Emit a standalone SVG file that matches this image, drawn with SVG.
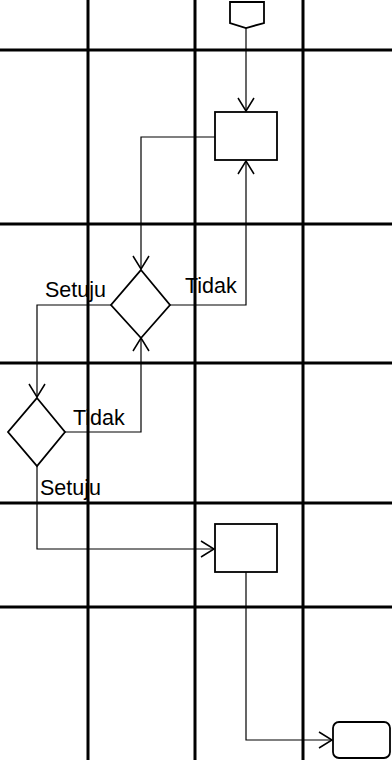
<svg xmlns="http://www.w3.org/2000/svg" width="392" height="760" viewBox="0 0 392 760">
<style>
.grid{stroke:#000;stroke-width:3;fill:none}
.shape{stroke:#000;stroke-width:1.8;fill:#fff}
.conn{stroke:#000;stroke-width:1.2;fill:none}
.lbl{font-family:"Liberation Sans",Arial,sans-serif;font-size:21.5px;fill:#000}
</style>
<defs>
<marker id="arr" markerUnits="userSpaceOnUse" markerWidth="20" markerHeight="20" viewBox="-15 -10 17 20" refX="0" refY="0" orient="auto">
<path d="M-13,-8 L0,0 L-13,8" fill="none" stroke="#000" stroke-width="1.5"/>
</marker>
</defs>
<g id="connectors">
<path class="conn" d="M246,28 L246,111" marker-end="url(#arr)"/>
<path class="conn" d="M215,137 L141,137 L141,269" marker-end="url(#arr)"/>
<path class="conn" d="M169,305 L246,305 L246,161" marker-end="url(#arr)"/>
<path class="conn" d="M111,305 L37,305 L37,397" marker-end="url(#arr)"/>
<path class="conn" d="M65,432 L141,432 L141,338" marker-end="url(#arr)"/>
<path class="conn" d="M37,466 L37,549 L214,549" marker-end="url(#arr)"/>
<path class="conn" d="M246,572 L246,740 L332,740" marker-end="url(#arr)"/>
</g>
<g id="start">
<path class="shape" d="M230,2 L264,2 L264,23 L246,28 L230,23 Z"/>
</g>
<g id="process1">
<rect class="shape" x="215" y="112" width="62" height="48"/>
</g>
<g id="decision1">
<path class="shape" d="M141,270 L170,305 L141,338 L111,305 Z"/>
</g>
<g id="decision2">
<path class="shape" d="M37,398 L65,432 L37,466 L8,432 Z"/>
</g>
<g id="process2">
<rect class="shape" x="215" y="524" width="62" height="48"/>
</g>
<g id="end">
<rect class="shape" x="333" y="722" width="57" height="36" rx="6"/>
</g>
<g id="labels">
<text class="lbl" x="45" y="297">Setuju</text>
<text class="lbl" x="185" y="293">Tidak</text>
<text class="lbl" x="73" y="425">Tidak</text>
<text class="lbl" x="40" y="495">Setuju</text>
</g>
<g id="grid">
<line class="grid" x1="88" y1="0" x2="88" y2="760"/>
<line class="grid" x1="195" y1="0" x2="195" y2="760"/>
<line class="grid" x1="303" y1="0" x2="303" y2="760"/>
<line class="grid" x1="0" y1="50" x2="392" y2="50"/>
<line class="grid" x1="0" y1="224" x2="392" y2="224"/>
<line class="grid" x1="0" y1="363" x2="392" y2="363"/>
<line class="grid" x1="0" y1="503" x2="392" y2="503"/>
<line class="grid" x1="0" y1="607" x2="392" y2="607"/>
</g>
</svg>
